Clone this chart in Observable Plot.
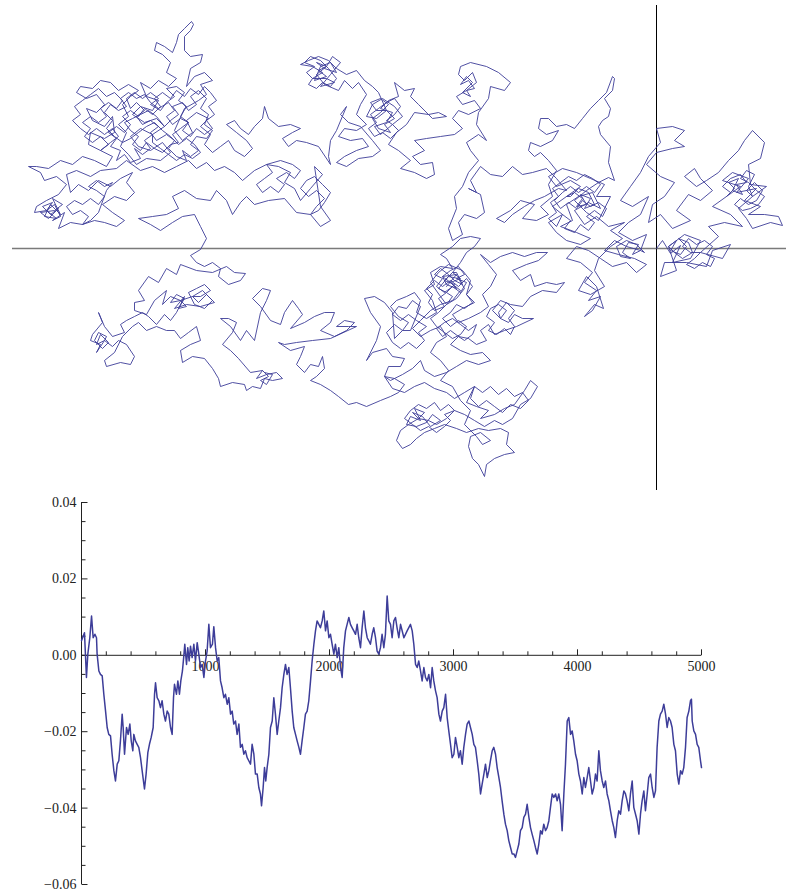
<!DOCTYPE html>
<html><head><meta charset="utf-8">
<script src="https://cdn.jsdelivr.net/npm/d3@7"></script>
<script src="https://cdn.jsdelivr.net/npm/@observablehq/plot@0.6"></script>
<style>body{margin:0;background:#fff}#chart svg{display:block}</style>
</head><body><div id="chart"></div>
<script>
// 2D random walk, coordinates in units of 1e-4 (origin at axes crossing)
const walkRight = [[0,0],[6,8],[14,-5],[24,3],[16,-14],[34,-10],[44,8],[28,14],[12,2],[20,-22],[4,-28],[8,-14],[30,-14],[50,-18],[56,-2],[74,4],[66,-10],[44,-4],[62,12],[52,22],[68,26],[86,22],[74,34],[56,42],[70,52],[84,62],[66,68],[76,76],[92,70],[80,56],[100,60],[88,48],[104,42],[92,34],[108,34],[122,32],[126,23],[114,26],[96,20],[90,30],[82,40],[96,52],[110,62],[94,64],[92,84],[104,90],[108,106],[96,118],[88,108],[82,98],[72,88],[62,76],[50,68],[40,62],[28,72],[38,80],[44,70],[56,58],[44,48],[32,54],[20,38],[34,28],[16,20],[4,34],[-8,26],[-4,44],[8,52],[18,66],[4,72],[-10,84],[0,96],[16,100],[28,102],[18,108],[28,118],[16,122],[0,120],[4,106],[-8,92],[-16,76],[-26,62],[-36,48],[-24,42],[-8,52],[-16,34],[-28,26],[-38,16],[-24,8],[-10,14],[-16,-2],[-30,2],[-42,8],[-52,-2],[-38,-6],[-22,-10],[-10,-16],[-20,-24],[-30,-14],[-44,-18],[-56,-10],[-68,-2],[-80,2],[-90,-10],[-76,-14],[-64,-24],[-72,-34],[-60,-42],[-68,-52],[-56,-48],[-64,-62],[-72,-68],[-62,-56],[-53,-60],[-60,-38],[-70,-28],[-78,-42],[-66,-46],[-52,-38],[-62,-22],[-58,-10],[-46,2],[-34,10],[-46,18],[-32,26]];
const walkMid = [[-48,22],[-60,32],[-72,24],[-82,38],[-68,46],[-56,40],[-64,56],[-78,52],[-90,44],[-84,28],[-96,22],[-80,16],[-66,10],[-76,4],[-90,8],[-100,16],[-108,26],[-94,34],[-104,42],[-90,52],[-76,62],[-86,68],[-100,62],[-108,72],[-94,80],[-80,76],[-66,70],[-52,64],[-60,52],[-46,52],[-58,28],[-70,36],[-82,48],[-70,58],[-58,66],[-48,71],[-42,68],[-48,86],[-46,102],[-56,114],[-58,122],[-54,128],[-48,132],[-46,140],[-52,150],[-44,158],[-42,170],[-44,172],[-50,156],[-58,148],[-66,140],[-74,130],[-82,120],[-90,124],[-100,122],[-108,130],[-116,130],[-118,120],[-110,114],[-98,118],[-104,108],[-116,102],[-126,106],[-128,98],[-122,92],[-116,96],[-108,88],[-100,78],[-108,64],[-104,52],[-116,42],[-108,34],[-120,28],[-134,30],[-122,44],[-136,48],[-146,38],[-160,30],[-152,26],[-144,34],[-132,42],[-122,48],[-112,52],[-98,60],[-90,58]];
const walkUpperMid = [[-100,70],[-110,80],[-124,76],[-134,74],[-144,82],[-154,72],[-166,74],[-176,82],[-186,68],[-180,56],[-188,60],[-176,54],[-172,36],[-180,30],[-192,34],[-198,26],[-194,14],[-204,8],[-208,20],[-200,40],[-202,52],[-194,62],[-188,76],[-178,88],[-186,98],[-190,106],[-178,114],[-170,108],[-180,124],[-178,136],[-168,150],[-166,162],[-152,158],[-146,166],[-158,176],[-170,182],[-186,186],[-196,182],[-198,174],[-192,168],[-184,176],[-180,166],[-190,158],[-200,152],[-194,144],[-182,148],[-176,140],[-188,134],[-198,138],[-204,130],[-194,120],[-202,114],[-216,112],[-230,110],[-242,108],[-232,98],[-244,92],[-236,84],[-224,86],[-222,74],[-230,70],[-242,76],[-256,80],[-246,88]];
const walkTopMid = [[-258,98],[-268,104],[-260,116],[-250,124],[-242,136],[-228,134],[-218,136],[-210,132],[-224,130],[-238,144],[-246,152],[-242,160],[-252,158],[-262,166],[-258,152],[-268,148],[-276,140],[-264,136],[-270,126],[-282,122],[-276,114],[-264,124],[-254,132],[-262,142],[-274,150],[-284,144],[-290,132],[-280,130],[-270,138],[-278,156],[-284,162],[-292,168],[-300,178],[-310,174],[-320,180],[-328,188],[-338,192],[-348,188],[-356,184],[-344,182],[-334,176],[-344,170],[-330,170],[-322,166],[-336,162],[-326,174],[-316,186],[-324,192],[-330,182],[-340,174],[-332,164],[-318,158],[-312,168],[-304,160],[-298,166],[-290,154],[-296,144],[-300,134],[-290,124],[-300,118],[-312,120],[-318,112],[-306,108],[-294,110],[-288,102],[-300,98],[-312,92],[-320,86],[-310,82],[-298,90],[-284,92],[-276,98],[-284,108],[-296,122],[-308,126],[-316,134],[-310,142],[-320,118],[-326,108],[-328,92],[-326,84],[-338,102],[-350,106],[-360,108],[-368,102],[-374,110],[-364,116],[-356,120],[-366,124],[-378,122],[-388,130],[-392,142],[-394,130],[-402,122],[-408,114],[-416,120],[-422,128],[-430,124],[-420,116],[-410,108],[-404,100],[-412,92],[-422,98],[-428,108],[-436,102]];
const walkTopLeft = [[-444,96],[-452,104],[-446,114],[-456,122],[-448,130],[-460,136],[-470,128],[-464,116],[-474,108],[-482,118],[-472,140],[-458,148],[-450,154],[-456,164],[-444,168],[-452,176],[-462,172],[-470,162],[-466,180],[-456,186],[-454,194],[-466,192],[-472,198],[-472,212],[-466,218],[-463,224],[-465,227],[-472,220],[-478,214],[-480,206],[-484,196],[-492,202],[-500,206],[-502,198],[-494,194],[-486,186],[-490,176],[-480,170],[-488,162],[-498,168],[-506,160],[-516,166],[-510,152],[-498,148],[-504,138],[-516,142],[-524,134],[-512,126],[-500,130],[-492,122],[-504,114],[-516,120],[-526,112],[-518,102],[-506,98],[-494,106],[-486,96],[-496,88],[-510,90],[-520,84],[-528,94],[-536,102],[-530,116],[-538,124],[-528,132],[-534,144],[-526,152],[-518,158],[-528,164],[-538,158],[-546,166],[-556,168],[-564,160],[-576,162],[-580,156],[-570,150],[-560,154],[-552,144],[-560,136],[-570,140],[-564,128],[-552,122],[-544,132],[-542,116],[-552,110],[-566,116],[-568,104],[-556,98],[-544,92],[-550,82],[-562,88],[-574,92],[-584,84],[-596,88],[-608,80],[-620,82],[-628,82],[-616,76],[-612,68],[-600,72],[-590,64],[-598,54],[-610,48],[-620,42],[-622,36],[-610,38],[-602,44],[-596,32],[-604,28],[-592,36],[-598,20],[-586,26],[-574,24],[-562,28],[-552,26],[-540,22],[-532,28],[-544,36],[-554,44],[-542,52],[-530,48],[-522,56],[-530,66],[-524,76],[-536,70],[-546,62],[-558,68],[-568,58],[-578,64],[-586,56],[-590,74],[-580,78],[-566,72],[-556,78],[-540,80],[-530,88],[-516,78],[-504,82],[-492,76],[-480,82],[-468,88],[-460,80],[-450,86],[-442,78],[-432,82],[-422,76],[-414,68],[-402,78],[-390,84],[-378,82],[-366,76],[-372,66],[-362,60],[-356,48],[-346,60],[-334,74],[-342,82],[-336,42],[-326,28],[-336,22],[-346,34],[-360,36],[-372,50],[-388,48],[-402,44],[-410,52],[-416,46],[-424,34],[-430,48],[-440,58],[-446,48],[-460,50],[-472,58],[-484,52],[-478,40],[-490,34],[-504,32],[-518,30],[-506,24],[-496,18],[-484,26],[-474,32],[-462,34],[-456,22],[-450,10],[-456,-1]];
const walkBottomLeft = [[-466,-7],[-460,-14],[-452,-18],[-444,-14],[-436,-20],[-438,-28],[-428,-36],[-416,-32],[-411,-25],[-422,-24],[-430,-18],[-444,-24],[-460,-22],[-476,-16],[-480,-26],[-490,-20],[-498,-34],[-508,-28],[-518,-42],[-512,-52],[-522,-54],[-522,-62],[-510,-66],[-502,-52],[-490,-42],[-494,-56],[-486,-48],[-476,-52],[-464,-48],[-454,-42],[-448,-48],[-442,-54],[-456,-58],[-470,-56],[-482,-60],[-472,-48],[-480,-64],[-486,-72],[-492,-66],[-500,-76],[-508,-68],[-514,-64],[-522,-68],[-530,-72],[-536,-76],[-532,-84],[-544,-88],[-552,-78],[-558,-64],[-554,-74],[-564,-86],[-566,-92],[-556,-96],[-560,-104],[-552,-92],[-544,-98],[-538,-92],[-530,-96],[-522,-108],[-526,-116],[-536,-114],[-550,-118],[-552,-112],[-542,-104],[-534,-88],[-524,-78],[-518,-74],[-510,-82],[-500,-78],[-490,-82],[-482,-82],[-476,-90],[-468,-84],[-460,-78],[-456,-92],[-466,-96],[-476,-102],[-474,-114],[-464,-108],[-452,-110],[-444,-120],[-438,-130],[-436,-138],[-424,-134],[-412,-136],[-410,-142],[-404,-138],[-396,-140],[-392,-130],[-384,-132],[-374,-130],[-380,-124],[-390,-126],[-400,-130],[-394,-122],[-406,-124],[-418,-110],[-426,-102],[-434,-96],[-424,-84],[-420,-74],[-428,-70],[-436,-70],[-426,-78],[-416,-92],[-410,-82],[-402,-92],[-396,-64],[-390,-52],[-386,-42],[-394,-40],[-404,-50],[-396,-58],[-386,-72],[-376,-76],[-372,-64],[-364,-52],[-358,-60],[-354,-66],[-366,-80],[-352,-74],[-342,-68],[-332,-64],[-322,-64],[-326,-74],[-336,-82],[-322,-88],[-310,-82],[-302,-74],[-312,-72],[-320,-78],[-308,-78],[-300,-78],[-326,-90],[-344,-92],[-360,-94],[-372,-96],[-378,-94],[-366,-102],[-352,-98],[-356,-108],[-360,-116],[-352,-124],[-346,-116],[-338,-118],[-334,-108],[-332,-120],[-340,-128],[-346,-132],[-336,-136],[-326,-142],[-318,-148],[-308,-156],[-300,-154],[-290,-158],[-276,-152],[-266,-148],[-258,-144]];
const walkCenter = [[-252,-136],[-262,-130],[-272,-128],[-268,-118],[-256,-118],[-252,-110],[-264,-108],[-270,-100],[-284,-104],[-290,-112],[-280,-92],[-276,-78],[-286,-64],[-292,-50],[-282,-48],[-272,-54],[-264,-64],[-262,-90],[-254,-82],[-248,-74],[-258,-68],[-266,-58],[-260,-52],[-250,-48],[-242,-44],[-236,-52],[-240,-64],[-230,-70],[-220,-64],[-224,-52],[-232,-42],[-222,-36],[-226,-24],[-216,-18],[-204,-20],[-210,-10],[-216,-6],[-204,2],[-196,10],[-186,12],[-176,10],[-182,2],[-190,-4],[-196,-14],[-204,-24],[-212,-32],[-202,-36],[-210,-44],[-218,-40],[-208,-28],[-198,-30],[-192,-40],[-200,-50],[-210,-56],[-216,-48],[-226,-34],[-218,-24],[-208,-16],[-194,-22],[-186,-32],[-190,-46],[-182,-54],[-194,-60],[-204,-66],[-198,-74],[-188,-70],[-176,-64],[-168,-58],[-174,-46],[-166,-38],[-160,-26],[-168,-16],[-176,-6],[-166,-14],[-156,-8],[-144,-4],[-132,-8],[-120,-4],[-109,-4],[-118,-12],[-130,-16],[-144,-22],[-136,-32],[-126,-26],[-122,-38],[-110,-34],[-100,-36],[-92,-34],[-100,-44],[-114,-42],[-126,-48],[-134,-58],[-146,-56],[-156,-52],[-164,-62],[-156,-70],[-148,-74],[-142,-66],[-134,-70],[-123,-70],[-140,-78],[-152,-82],[-162,-86],[-168,-76],[-176,-82],[-170,-92],[-180,-96],[-188,-90],[-198,-88],[-206,-96],[-196,-102],[-186,-106],[-174,-104],[-166,-112],[-178,-116],[-190,-112],[-200,-118],[-210,-124],[-222,-128],[-232,-122],[-236,-112],[-244,-120],[-254,-126],[-266,-132],[-272,-128],[-264,-140],[-252,-144],[-242,-138],[-232,-134],[-222,-140],[-210,-144],[-202,-150],[-192,-144],[-182,-138],[-190,-154],[-180,-158],[-168,-162],[-176,-170],[-162,-166],[-152,-160],[-142,-156],[-132,-142],[-126,-132],[-119,-138],[-126,-150],[-136,-156],[-144,-170],[-154,-176],[-162,-172],[-172,-178],[-182,-172],[-192,-166],[-202,-162],[-210,-170],[-220,-176],[-228,-172],[-238,-170],[-248,-176],[-256,-182],[-260,-192],[-254,-200],[-246,-196],[-240,-190],[-232,-184],[-222,-180],[-212,-176],[-200,-180],[-190,-184],[-178,-180],[-168,-182],[-156,-180],[-148,-184],[-150,-196],[-142,-204],[-152,-206],[-162,-210],[-170,-216],[-172,-228],[-178,-216],[-184,-210],[-188,-198],[-186,-188],[-176,-184],[-166,-192],[-174,-196],[-180,-188],[-192,-176],[-186,-162],[-196,-152],[-204,-138],[-216,-132],[-208,-122],[-216,-112],[-226,-104],[-220,-94],[-210,-88],[-216,-78],[-226,-82],[-236,-88],[-244,-80],[-236,-72],[-226,-62],[-216,-56],[-204,-52],[-196,-42],[-206,-34],[-214,-28],[-200,-26],[-210,-38]];

// dense tangles inside the clusters, each spliced in right after its anchor point
const tangleTopLeftCore = [[-486,128],[-478,134],[-484,142],[-474,146],[-468,138],[-460,144],[-466,152],[-458,158],[-450,150],[-456,140],[-448,134],[-452,124],[-444,118],[-450,110],[-460,112],[-466,104],[-458,98],[-466,92],[-474,98],[-470,88],[-480,92],[-488,100],[-482,108],[-490,114],[-500,108],[-506,116],[-498,122],[-506,128],[-514,124],[-520,132],[-512,138],[-520,146],[-526,140],[-530,150],[-522,156],[-514,150],[-506,156],[-498,150],[-506,144],[-496,138],[-490,146],[-482,152],[-490,160],[-480,162],[-472,156],[-478,148],[-470,142],[-476,132],[-468,126],[-476,120],[-484,114],[-478,106],[-486,104],[-494,96],[-502,100],[-510,106],[-516,98],[-524,104],[-518,112],[-526,118],[-532,126],[-524,130],[-516,134],[-508,138],[-500,132],[-492,122]];
const tangleTopLeftCore2 = [[-512,108],[-506,100],[-514,94],[-522,100],[-516,90],[-526,86],[-532,94],[-540,88],[-536,98],[-546,102],[-540,110],[-548,116],[-540,122],[-532,116],[-526,124],[-534,132],[-526,138],[-518,132],[-512,140],[-504,134],[-496,142],[-502,150],[-494,156],[-486,150],[-480,158],[-472,152],[-466,160],[-458,154],[-452,162],[-446,156],[-440,148],[-448,142],[-442,134],[-450,128],[-444,120],[-452,114],[-460,120],[-466,112],[-474,118],[-468,126],[-476,130],[-484,124],[-490,132],[-482,138],[-488,146],[-498,140],[-506,146],[-512,154],[-520,150],[-528,156],[-536,150],[-530,142],[-538,138],[-546,144],[-552,136],[-544,128],[-550,120],[-542,112],[-534,106],[-526,110],[-518,116],[-510,122],[-502,126],[-494,118],[-486,112],[-478,104],[-470,110],[-462,104],[-456,96],[-464,90],[-472,94],[-480,88],[-488,94],[-496,100],[-504,106],[-504,114]];
const tangleTopLeftUpper = [[-548,104],[-556,112],[-564,106],[-572,112],[-566,120],[-574,126],[-566,132],[-558,126],[-550,132],[-556,140],[-548,146],[-540,140],[-534,148],[-542,156],[-550,152],[-558,160],[-566,154],[-574,148],[-582,142],[-576,134],[-584,128],[-576,120],[-568,114],[-560,120],[-552,114],[-544,120],[-538,112],[-546,106],[-556,98]];
const tangleTopLeftLow = [[-604,46],[-614,42],[-606,34],[-598,40],[-608,30],[-616,36],[-602,38],[-594,44],[-604,50],[-596,34],[-606,44],[-612,32],[-600,30],[-610,38]];
const tangleTopLeftSouth = [[-568,32],[-576,38],[-584,34],[-590,42],[-582,48],[-574,44],[-566,50],[-558,44],[-552,52],[-560,58],[-568,62],[-560,68],[-552,62],[-544,66],[-550,58],[-558,36],[-566,28],[-574,24]];
const tangleTopLeftEast = [[-384,76],[-392,70],[-400,64],[-394,56],[-386,62],[-378,56],[-372,64],[-380,70],[-370,76],[-362,70],[-356,78],[-364,84],[-376,88],[-390,84]];
const tangleTopLeftEast2 = [[-340,42],[-332,50],[-340,58],[-348,52],[-356,60],[-350,68],[-342,72],[-334,64],[-326,56],[-332,46],[-338,38],[-346,34]];
const tangleCenterUpper = [[-196,-30],[-206,-34],[-200,-40],[-210,-36],[-214,-28],[-206,-22],[-198,-18],[-192,-26],[-200,-30],[-190,-34],[-196,-44],[-204,-38],[-212,-44],[-220,-38],[-214,-30],[-222,-26],[-216,-20],[-208,-26],[-202,-32],[-194,-36],[-200,-24],[-204,-24]];
const tangleCenterTop2 = [[-218,-50],[-212,-58],[-222,-62],[-228,-54],[-224,-46],[-230,-40],[-222,-32],[-214,-38],[-206,-32],[-198,-38],[-190,-30],[-184,-38],[-190,-46],[-184,-54],[-192,-60],[-200,-56],[-206,-64],[-214,-70],[-206,-78],[-198,-72],[-190,-78],[-196,-86],[-204,-90],[-212,-84],[-220,-78],[-226,-70],[-218,-64],[-210,-56],[-204,-48],[-210,-44]];
const tangleCenterWest = [[-262,-76],[-270,-84],[-264,-94],[-256,-100],[-248,-94],[-240,-100],[-232,-92],[-238,-84],[-230,-78],[-240,-72],[-248,-66],[-256,-72],[-264,-66],[-258,-58],[-250,-60],[-244,-52],[-236,-58],[-246,-82],[-254,-82]];
const tangleCenterMid = [[-206,-82],[-214,-88],[-220,-80],[-212,-74],[-204,-70],[-196,-76],[-188,-82],[-180,-76],[-184,-86],[-192,-92],[-198,-88]];
const tangleCenterRight = [[-150,-62],[-158,-56],[-166,-60],[-170,-68],[-162,-74],[-168,-82],[-160,-86],[-152,-80],[-146,-86],[-142,-78],[-148,-70],[-142,-62],[-150,-54],[-158,-64],[-156,-70]];
const tangleCenterSouth = [[-174,-144],[-166,-138],[-158,-146],[-150,-140],[-142,-148],[-134,-144],[-128,-152],[-136,-160],[-146,-156],[-154,-164],[-162,-158],[-170,-152],[-178,-158],[-186,-150],[-182,-138]];
const tangleCenterLower = [[-232,-164],[-242,-160],[-236,-172],[-246,-168],[-250,-176],[-240,-178],[-230,-174],[-224,-166],[-216,-172],[-226,-178],[-234,-168],[-244,-164],[-238,-170]];
const tangleCenterLow2 = [[-208,-156],[-216,-162],[-222,-154],[-230,-160],[-238,-156],[-246,-162],[-252,-170],[-244,-176],[-236,-182],[-228,-178],[-220,-184],[-212,-178],[-206,-172],[-212,-166],[-202,-162]];
const tangleRight = [[78,60],[72,66],[82,70],[76,58],[86,54],[80,64],[90,66],[84,74],[74,70],[66,62],[74,56],[70,52]];
const tangleRight2 = [[90,58],[98,66],[106,58],[100,48],[92,44],[84,50],[78,44],[86,38],[94,40],[102,44],[108,52],[100,58],[92,66],[84,70],[90,78],[98,74],[92,62],[96,52]];
const tangleMid = [[-82,56],[-74,50],[-80,42],[-70,44],[-76,54],[-66,50],[-72,40],[-62,44],[-68,56],[-78,60],[-86,52],[-90,52]];
const tangleMidCluster = [[-86,28],[-92,20],[-82,16],[-76,24],[-68,18],[-62,26],[-70,32],[-62,38],[-54,32],[-50,40],[-58,46],[-66,42],[-74,48],[-80,40],[-88,46],[-96,40],[-102,48],[-94,56],[-86,62],[-78,56],[-70,62],[-62,56],[-56,64],[-64,70],[-72,74],[-80,68],[-88,72],[-96,66],[-104,60],[-98,52],[-106,46],[-100,36],[-108,30],[-100,22],[-94,34]];
const tangleOriginLeft = [[-24,-6],[-18,4],[-28,6],[-34,-4],[-26,-10],[-36,-8],[-40,2],[-30,8],[-20,4],[-12,-4],[-16,-2]];
const tangleOriginRight = [[20,8],[14,-2],[24,-6],[30,2],[22,10],[32,6],[36,-4],[26,-10],[18,-4],[12,2]];
const tangleOriginEast = [[38,-10],[30,-16],[38,-20],[46,-14],[54,-18],[58,-10],[50,-6],[56,2],[48,8],[40,4],[32,10],[26,2],[34,-4],[44,-4]];
const tangleTopMidA = [[-262,130],[-272,124],[-266,116],[-278,120],[-284,130],[-276,136],[-268,144],[-276,150],[-286,146],[-280,138],[-270,138]];
const tangleTopMidB = [[-338,178],[-330,172],[-342,168],[-336,182],[-326,186],[-320,176],[-332,180],[-340,186],[-330,182]];
const tangleTopMidC = [[-258,118],[-266,110],[-274,116],[-282,112],[-288,120],[-280,126],[-286,134],[-278,140],[-270,146],[-262,150],[-256,142],[-262,134],[-270,128],[-264,124]];
const tangleTopMidD = [[-350,176],[-342,182],[-352,186],[-346,192],[-336,188],[-328,180],[-320,170],[-326,162],[-334,166],[-340,160],[-348,164],[-344,170]];
const tangleBottomLeftA = [[-560,-96],[-556,-86],[-548,-94],[-554,-100],[-562,-92],[-558,-84],[-550,-88],[-552,-92]];
const tangleBottomLeftB = [[-470,-58],[-478,-60],[-472,-50],[-480,-46],[-486,-54],[-476,-52]];
const tangleBottomLeftC = [[-388,-128],[-396,-132],[-390,-136],[-384,-126],[-392,-124],[-394,-122]];
const tangleBottomLeftD = [[-458,-54],[-450,-46],[-444,-52],[-452,-60],[-462,-56],[-468,-44],[-460,-40],[-452,-36],[-446,-42],[-456,-48],[-464,-48]];
const tangleUpperMid = [[-182,160],[-188,168],[-196,164],[-190,172],[-184,166],[-194,156],[-186,152],[-190,158]];

// 1D walk: [step, value in thousandths]
const series = [[0,3.8],[24,5.9],[40,-5.8],[51,0.3],[67,4.6],[81,10.3],[94,4.6],[108,5.5],[121,4.6],[126,0.3],[140,-4.1],[153,-5.0],[167,-5.4],[180,-10.2],[194,-14.6],[207,-18.9],[220,-20.7],[234,-21.1],[247,-25.9],[261,-30.2],[274,-32.9],[288,-28.5],[301,-27.6],[314,-22.4],[328,-15.4],[336,-18.9],[347,-25.9],[363,-18.9],[376,-20.7],[390,-18.0],[401,-22.4],[414,-25.0],[422,-20.7],[435,-22.4],[449,-23.3],[462,-24.1],[476,-26.8],[489,-30.2],[508,-35.0],[521,-31.1],[535,-25.5],[548,-23.3],[562,-21.5],[578,-18.9],[589,-10.2],[597,-7.2],[610,-11.1],[624,-11.9],[637,-13.7],[650,-11.9],[664,-15.4],[677,-17.2],[691,-14.6],[704,-15.4],[718,-18.9],[731,-20.7],[742,-11.1],[750,-7.6],[766,-10.2],[777,-6.7],[790,-10.2],[801,-6.7],[814,-4.1],[825,-0.2],[833,2.9],[847,-2.4],[857,2.0],[868,-1.5],[879,2.4],[892,-0.6],[906,2.9],[919,-1.5],[933,3.3],[946,0.3],[960,-3.2],[973,-2.4],[987,-5.8],[1000,-1.5],[1013,1.1],[1027,8.1],[1040,2.0],[1056,2.9],[1067,7.5],[1081,2.0],[1094,-1.5],[1107,-0.6],[1121,-6.7],[1134,-8.5],[1148,-11.1],[1161,-10.2],[1175,-12.8],[1188,-11.1],[1202,-15.4],[1215,-14.6],[1228,-18.0],[1242,-17.2],[1255,-20.7],[1269,-18.0],[1282,-24.1],[1296,-23.3],[1309,-25.9],[1322,-25.0],[1336,-26.8],[1349,-27.6],[1363,-28.5],[1376,-23.3],[1390,-25.9],[1403,-31.1],[1417,-31.1],[1430,-34.6],[1443,-36.3],[1452,-39.4],[1465,-34.6],[1476,-29.4],[1486,-32.9],[1497,-29.4],[1511,-25.9],[1524,-18.9],[1538,-17.2],[1551,-11.1],[1564,-15.4],[1578,-20.7],[1591,-17.2],[1605,-13.7],[1618,-8.5],[1632,-5.0],[1645,-2.4],[1658,-5.0],[1672,-3.2],[1685,-8.5],[1699,-14.6],[1712,-18.9],[1726,-20.7],[1739,-22.4],[1753,-24.1],[1766,-25.9],[1779,-22.4],[1793,-18.9],[1806,-15.4],[1820,-14.6],[1833,-11.9],[1847,-6.7],[1860,-1.5],[1874,2.9],[1887,6.4],[1900,9.0],[1914,8.1],[1927,7.2],[1941,9.0],[1954,11.6],[1968,6.4],[1981,9.0],[1995,4.6],[2008,5.5],[2021,2.9],[2035,0.3],[2048,2.9],[2062,-0.6],[2075,2.0],[2089,-3.2],[2102,-5.8],[2115,2.0],[2129,6.4],[2142,8.1],[2156,9.9],[2169,8.1],[2183,7.2],[2196,6.4],[2210,5.5],[2223,8.1],[2236,4.6],[2250,2.0],[2263,7.2],[2277,11.6],[2290,7.2],[2304,4.6],[2317,3.8],[2330,2.9],[2344,5.5],[2357,7.2],[2371,4.6],[2384,1.1],[2398,0.3],[2411,2.0],[2424,5.5],[2438,2.0],[2451,5.5],[2465,15.5],[2478,9.0],[2492,8.1],[2505,4.6],[2519,9.0],[2532,9.9],[2545,7.2],[2559,4.6],[2573,8.1],[2600,4.6],[2626,6.4],[2653,8.1],[2667,6.4],[2680,2.9],[2694,-2.4],[2707,-3.2],[2720,-1.5],[2734,-4.1],[2747,-6.7],[2761,-3.2],[2774,-5.8],[2788,-6.7],[2801,-5.0],[2815,-8.5],[2828,-3.2],[2841,-6.7],[2855,-9.3],[2868,-11.1],[2882,-15.4],[2895,-17.2],[2909,-14.6],[2922,-13.7],[2936,-10.2],[2949,-16.3],[2962,-19.8],[2976,-23.3],[2989,-26.8],[3003,-25.9],[3016,-21.5],[3030,-24.1],[3043,-26.8],[3056,-25.0],[3070,-28.5],[3083,-24.1],[3097,-20.7],[3110,-18.0],[3124,-17.2],[3137,-18.9],[3151,-20.7],[3164,-23.3],[3177,-24.1],[3191,-27.6],[3204,-31.1],[3218,-36.3],[3231,-33.7],[3245,-31.1],[3258,-28.5],[3272,-32.0],[3285,-30.2],[3298,-27.6],[3312,-25.0],[3325,-24.1],[3339,-25.9],[3352,-29.4],[3366,-32.0],[3379,-34.6],[3392,-38.1],[3406,-41.6],[3419,-44.2],[3433,-45.9],[3446,-48.5],[3460,-50.3],[3473,-52.0],[3487,-52.0],[3500,-52.9],[3513,-51.2],[3527,-49.4],[3540,-45.9],[3554,-45.1],[3567,-42.4],[3581,-41.6],[3594,-39.0],[3608,-42.4],[3621,-45.1],[3634,-46.8],[3648,-48.5],[3661,-50.3],[3675,-52.0],[3688,-49.4],[3702,-45.9],[3715,-46.8],[3728,-44.2],[3742,-45.9],[3755,-45.1],[3769,-43.3],[3782,-39.8],[3796,-36.3],[3809,-37.2],[3823,-36.3],[3836,-38.1],[3849,-36.3],[3863,-39.0],[3876,-45.9],[3890,-36.3],[3903,-28.5],[3917,-17.2],[3930,-16.3],[3944,-20.7],[3957,-19.8],[3970,-22.4],[3984,-25.9],[3997,-27.6],[4011,-31.1],[4024,-32.9],[4038,-36.3],[4051,-32.0],[4064,-34.6],[4078,-32.0],[4091,-29.4],[4105,-32.9],[4118,-36.3],[4132,-34.6],[4145,-31.1],[4158,-32.9],[4172,-25.0],[4185,-30.2],[4199,-32.9],[4212,-34.6],[4226,-32.9],[4239,-36.3],[4253,-38.1],[4266,-40.7],[4280,-43.3],[4293,-45.1],[4306,-47.7],[4320,-43.3],[4333,-40.7],[4347,-41.6],[4360,-38.1],[4374,-35.5],[4387,-36.3],[4400,-38.1],[4414,-40.7],[4427,-36.3],[4441,-32.9],[4454,-39.8],[4468,-41.6],[4481,-43.3],[4495,-46.8],[4508,-41.6],[4521,-38.1],[4535,-35.5],[4548,-40.7],[4562,-36.3],[4575,-32.0],[4589,-31.1],[4602,-34.6],[4616,-37.2],[4629,-35.5],[4642,-24.1],[4656,-17.2],[4669,-15.4],[4683,-14.6],[4696,-12.8],[4710,-15.4],[4723,-18.9],[4736,-16.3],[4750,-17.2],[4763,-18.9],[4777,-23.3],[4790,-25.0],[4804,-31.1],[4817,-33.7],[4831,-30.2],[4844,-31.1],[4857,-29.4],[4871,-24.1],[4884,-16.3],[4898,-14.6],[4911,-11.9],[4919,-11.5],[4925,-17.2],[4938,-19.8],[4952,-20.7],[4965,-23.3],[4978,-24.1],[4992,-27.6],[5000,-29.4]];

const yMajor = [-0.06, -0.04, -0.02, 0, 0.02, 0.04];
const yLabels = ["\u22120.06", "\u22120.04", "\u22120.02", "0.00", "0.02", "0.04"];
const yMinor = [-0.055, -0.05, -0.045, -0.035, -0.03, -0.025, -0.015, -0.01, -0.005, 0.005, 0.01, 0.015, 0.025, 0.03, 0.035];
const xMajor = [1000, 2000, 3000, 4000, 5000];
const xLabels = ["1000", "2000", "3000", "4000", "5000"];
const xMinor = [200, 400, 600, 800, 1200, 1400, 1600, 1800, 2200, 2400, 2600, 2800, 3200, 3400, 3600, 3800, 4200, 4400, 4600, 4800];

const BLUE = "#3d3d99";
const FONT = "'Liberation Serif', 'DejaVu Serif', serif";

// build the single walk path: base trace with the tangles spliced in after their anchors
const tangles = [
  [[12,2], tangleOriginRight], [[44,-4], tangleOriginEast], [[70,52], tangleRight], [[96,52], tangleRight2],
  [[-16,-2], tangleOriginLeft], [[-94,34], tangleMidCluster], [[-90,52], tangleMid],
  [[-190,158], tangleUpperMid], [[-264,124], tangleTopMidC], [[-270,138], tangleTopMidA],
  [[-344,170], tangleTopMidD], [[-330,182], tangleTopMidB], [[-492,122], tangleTopLeftCore],
  [[-504,114], tangleTopLeftCore2], [[-556,98], tangleTopLeftUpper], [[-610,38], tangleTopLeftLow],
  [[-574,24], tangleTopLeftSouth], [[-390,84], tangleTopLeftEast], [[-346,34], tangleTopLeftEast2],
  [[-476,-52], tangleBottomLeftB], [[-464,-48], tangleBottomLeftD],
  [[-552,-92], tangleBottomLeftA], [[-394,-122], tangleBottomLeftC],
  [[-254,-82], tangleCenterWest], [[-204,-24], tangleCenterUpper], [[-210,-44], tangleCenterTop2],
  [[-156,-70], tangleCenterRight], [[-198,-88], tangleCenterMid], [[-182,-138], tangleCenterSouth],
  [[-202,-162], tangleCenterLow2], [[-238,-170], tangleCenterLower]
];
const base = [...walkRight, ...walkMid, ...walkUpperMid, ...walkTopMid, ...walkTopLeft, ...walkBottomLeft, ...walkCenter];
const used = new Set();
const walk = [];
for (const p of base) {
  walk.push({x: p[0], y: p[1]});
  tangles.forEach(([a, pts], k) => {
    if (!used.has(k) && a[0] === p[0] && a[1] === p[1]) {
      used.add(k);
      for (const q of pts) walk.push({x: q[0], y: q[1]});
    }
  });
}
const seriesData = series.map(([t, v]) => ({t, v: v / 1000}));

const tickMark = (dx, dy) => ({draw(ctx) { ctx.moveTo(0, 0); ctx.lineTo(dx, dy); }});

const walkChart = Plot.plot({
  width: 787, height: 495,
  marginTop: 5, marginBottom: 5, marginLeft: 12, marginRight: 1,
  x: {domain: [-644, 130], axis: null},
  y: {domain: [-242, 243], axis: null},
  style: {background: "#fff"},
  marks: [
    Plot.ruleY([0], {stroke: "#7a7a7a", strokeWidth: 1.6}),
    Plot.ruleX([0], {stroke: "#000", strokeWidth: 1}),
    Plot.line(walk, {x: "x", y: "y", stroke: BLUE, strokeWidth: 0.9, strokeLinejoin: "miter"})
  ]
});

const seriesChart = Plot.plot({
  width: 787, height: 397,
  marginTop: 7, marginBottom: 8, marginLeft: 81, marginRight: 86,
  x: {domain: [0, 5000], axis: null},
  y: {domain: [-0.06, 0.04], axis: null},
  style: {background: "#fff", fontFamily: FONT},
  marks: [
    Plot.ruleY([0], {stroke: "#222", strokeWidth: 1}),
    Plot.ruleX([0], {stroke: "#222", strokeWidth: 1}),
    Plot.dot(yMajor, {x: 0, y: d => d, symbol: tickMark(6, 0), stroke: "#222", fill: "none", strokeWidth: 1}),
    Plot.dot(yMinor, {x: 0, y: d => d, symbol: tickMark(4, 0), stroke: "#222", fill: "none", strokeWidth: 1}),
    Plot.dot(xMajor, {x: d => d, y: 0, symbol: tickMark(0, -6), stroke: "#222", fill: "none", strokeWidth: 1}),
    Plot.dot(xMinor, {x: d => d, y: 0, symbol: tickMark(0, -4), stroke: "#222", fill: "none", strokeWidth: 1}),
    Plot.text(yMajor, {x: 0, y: d => d, text: (d, i) => yLabels[i], textAnchor: "end", dx: -5, fontSize: 14, fill: "#222"}),
    Plot.text(xMajor, {x: d => d, y: 0, text: (d, i) => xLabels[i], dy: 11, fontSize: 14, fill: "#222"}),
    Plot.line(seriesData, {x: "t", y: "v", stroke: BLUE, strokeWidth: 1.5})
  ]
});

const chart = document.getElementById("chart");
chart.appendChild(walkChart);
chart.appendChild(seriesChart);
</script>
</body></html>
